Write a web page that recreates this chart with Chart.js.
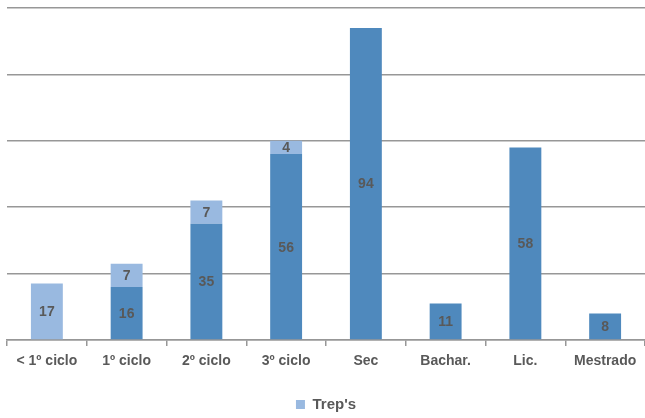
<!DOCTYPE html>
<html lang="pt">
<head>
    <meta charset="UTF-8">
    <title>Habilitações</title>
    <style>
        html, body { margin: 0; padding: 0; background: #fff; }
        #box { width: 645px; height: 418px; }
    </style>
</head>
<body>
    <div id="box">
        <canvas id="myChart"></canvas>
    </div>

    <script src="https://cdn.jsdelivr.net/npm/chart.js"></script>
    <script>
        const categorias = ['< 1º ciclo', '1º ciclo', '2º ciclo', '3º ciclo', 'Sec', 'Bachar.', 'Lic.', 'Mestrado'];
        const base = [null, 16, 35, 56, 94, 11, 58, 8];
        const treps = [17, 7, 7, 4, null, null, null, null];
        const yTicks = [0, 20, 40, 60, 80, 100];

        const grey = '#595959';
        const lineGrey = '#979797';
        const fontFamily = '"Liberation Sans", Arial, sans-serif';

        // writes each segment's value in the middle of its bar
        const valueLabels = {
            id: 'valueLabels',
            afterDatasetsDraw(chart) {
                const c = chart.ctx;
                c.save();
                c.font = 'bold 14px ' + fontFamily;
                c.fillStyle = grey;
                c.textAlign = 'center';
                c.textBaseline = 'middle';
                chart.data.datasets.forEach((ds, i) => {
                    const meta = chart.getDatasetMeta(i);
                    meta.data.forEach((bar, j) => {
                        const v = ds.data[j];
                        if (v == null || v === 0) return;
                        const p = bar.getProps(['x', 'y', 'base'], true);
                        c.fillText(String(v), p.x, (p.y + p.base) / 2 + 1);
                    });
                });
                c.restore();
            }
        };

        new Chart(document.getElementById('myChart'), {
            type: 'bar',
            data: {
                labels: categorias,
                datasets: [
                    {
                        label: 'Total',
                        data: base,
                        backgroundColor: '#4F89BD',
                        barPercentage: 0.4,
                        categoryPercentage: 1
                    },
                    {
                        label: "Trep's",
                        data: treps,
                        backgroundColor: '#99B9E0',
                        barPercentage: 0.4,
                        categoryPercentage: 1
                    }
                ]
            },
            options: {
                responsive: true,
                maintainAspectRatio: false,
                animation: false,
                layout: { padding: { left: 7, top: 8, right: 0, bottom: -4 } },
                plugins: {
                    tooltip: { enabled: false },
                    legend: {
                        position: 'bottom',
                        labels: {
                            filter: item => item.text === "Trep's",
                            boxWidth: 9,
                            boxHeight: 9,
                            padding: 2,
                            color: grey,
                            font: { family: fontFamily, size: 15, weight: 'bold' }
                        }
                    }
                },
                scales: {
                    x: {
                        stacked: true,
                        afterFit: axis => { axis.height = 55; },
                        grid: {
                            drawOnChartArea: false,
                            drawTicks: true,
                            tickLength: 6,
                            color: lineGrey,
                            lineWidth: 1.5
                        },
                        border: { color: lineGrey, width: 1.5 },
                        ticks: {
                            color: grey,
                            padding: 7,
                            maxRotation: 0,
                            font: { family: fontFamily, size: 14, weight: 'bold' }
                        }
                    },
                    y: {
                        stacked: true,
                        min: 0,
                        max: 100,
                        afterBuildTicks: axis => { axis.ticks = yTicks.map(v => ({ value: v })); },
                        ticks: { display: false },
                        border: { display: false },
                        grid: {
                            drawTicks: false,
                            color: lineGrey,
                            lineWidth: 1.5
                        }
                    }
                }
            },
            plugins: [valueLabels]
        });
    </script>
</body>
</html>
